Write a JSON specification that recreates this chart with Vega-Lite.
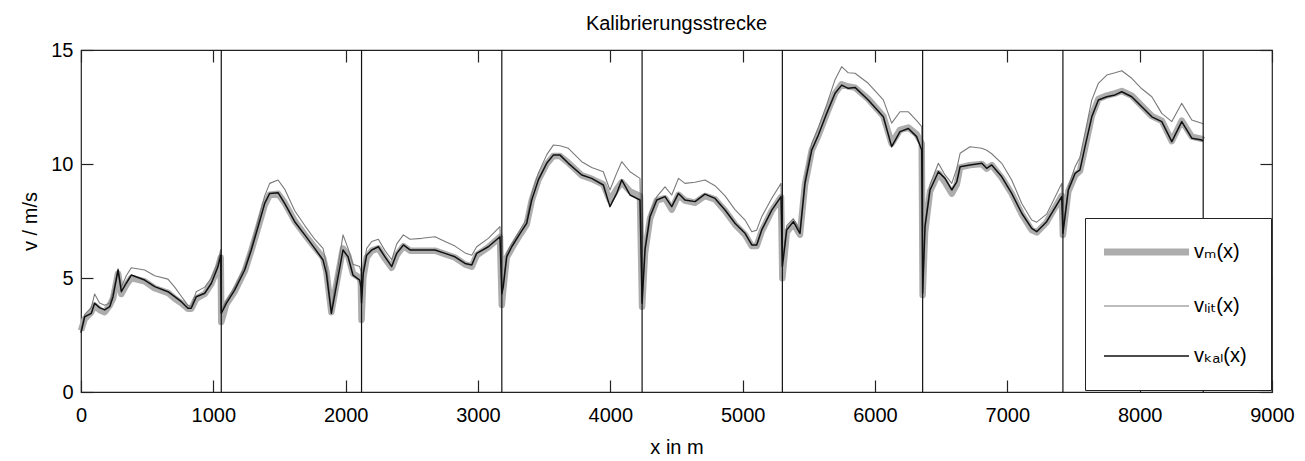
{
  "$schema": "https://vega.github.io/schema/vega-lite/v6.json",
  "width": 1191,
  "height": 342,
  "autosize": {"type": "none"},
  "padding": {"left": 81, "top": 50, "right": 33, "bottom": 69},
  "background": "white",
  "title": {
    "text": "Kalibrierungsstrecke",
    "font": "Liberation Sans",
    "fontSize": 20,
    "fontWeight": "normal",
    "color": "black",
    "baseline": "alphabetic",
    "offset": -10,
    "anchor": "middle"
  },
  "config": {
    "view": {"stroke": "#222", "strokeWidth": 1.2},
    "axis": {
      "grid": false,
      "domain": false,
      "tickSize": -12,
      "tickWidth": 1.2,
      "tickColor": "#222",
      "labelFont": "Liberation Sans",
      "labelFontSize": 20,
      "labelColor": "black",
      "titleFont": "Liberation Sans",
      "titleFontSize": 20,
      "titleFontWeight": "normal",
      "titleColor": "black",
      "labelFlush": false,
      "labelOverlap": false,
      "format": "d"
    },
    "legend": {
      "orient": "none",
      "legendX": 1004,
      "legendY": 168,
      "strokeColor": "#222",
      "fillColor": "white",
      "padding": 24,
      "symbolType": "M-1,0H4.667",
      "symbolSize": 900,
      "rowPadding": 30,
      "labelOffset": 65,
      "labelFont": "Liberation Sans, DejaVu Sans",
      "labelFontSize": 20,
      "labelColor": "black",
      "title": null
    }
  },
  "datasets": {
    "messung": [
      {"x": 0, "vkal": 2.6, "vlit": 2.7, "vm": 2.7},
      {"x": 28, "vkal": 3.3, "vlit": 3.4, "vm": 3.2},
      {"x": 78, "vkal": 3.45, "vlit": 3.7, "vm": 3.5},
      {"x": 103, "vkal": 3.89, "vlit": 4.3, "vm": 3.8},
      {"x": 140, "vkal": 3.7, "vlit": 3.9, "vm": 3.6},
      {"x": 179, "vkal": 3.6, "vlit": 3.8, "vm": 3.5},
      {"x": 217, "vkal": 3.74, "vlit": 3.9, "vm": 3.8},
      {"x": 242, "vkal": 4.18, "vlit": 4.4, "vm": 4.1},
      {"x": 280, "vkal": 5.35, "vlit": 5.4, "vm": 5.2},
      {"x": 305, "vkal": 4.4, "vlit": 4.6, "vm": 4.3},
      {"x": 342, "vkal": 4.77, "vlit": 5.1, "vm": 4.7},
      {"x": 380, "vkal": 5.13, "vlit": 5.45, "vm": 5.0},
      {"x": 481, "vkal": 4.91, "vlit": 5.35, "vm": 4.85},
      {"x": 557, "vkal": 4.62, "vlit": 5.1, "vm": 4.55},
      {"x": 657, "vkal": 4.4, "vlit": 4.95, "vm": 4.35},
      {"x": 708, "vkal": 4.18, "vlit": 4.6, "vm": 4.1},
      {"x": 758, "vkal": 3.96, "vlit": 4.2, "vm": 3.9},
      {"x": 808, "vkal": 3.67, "vlit": 3.8, "vm": 3.65},
      {"x": 833, "vkal": 3.67, "vlit": 3.75, "vm": 3.65},
      {"x": 871, "vkal": 4.18, "vlit": 4.4, "vm": 4.1},
      {"x": 935, "vkal": 4.33, "vlit": 4.6, "vm": 4.3},
      {"x": 985, "vkal": 4.77, "vlit": 5.0, "vm": 4.75},
      {"x": 1035, "vkal": 5.5, "vlit": 5.7, "vm": 5.45},
      {"x": 1056, "vkal": 6.0, "vlit": 6.25, "vm": 5.9},
      {"x": 1060, "vkal": 3.45, "vlit": 3.6, "vm": 3.07},
      {"x": 1098, "vkal": 3.89, "vlit": 4.0, "vm": 3.85},
      {"x": 1161, "vkal": 4.47, "vlit": 4.6, "vm": 4.4},
      {"x": 1237, "vkal": 5.35, "vlit": 5.5, "vm": 5.3},
      {"x": 1287, "vkal": 6.23, "vlit": 6.4, "vm": 6.2},
      {"x": 1338, "vkal": 7.25, "vlit": 7.5, "vm": 7.2},
      {"x": 1388, "vkal": 8.27, "vlit": 8.6, "vm": 8.2},
      {"x": 1426, "vkal": 8.71, "vlit": 9.15, "vm": 8.65},
      {"x": 1489, "vkal": 8.74, "vlit": 9.3, "vm": 8.7},
      {"x": 1539, "vkal": 8.27, "vlit": 8.9, "vm": 8.3},
      {"x": 1615, "vkal": 7.47, "vlit": 7.95, "vm": 7.5},
      {"x": 1691, "vkal": 6.89, "vlit": 7.3, "vm": 6.9},
      {"x": 1766, "vkal": 6.3, "vlit": 6.7, "vm": 6.35},
      {"x": 1829, "vkal": 5.79, "vlit": 6.3, "vm": 5.9},
      {"x": 1854, "vkal": 5.2, "vlit": 5.6, "vm": 5.3},
      {"x": 1892, "vkal": 3.45, "vlit": 3.6, "vm": 3.5},
      {"x": 1929, "vkal": 4.62, "vlit": 5.0, "vm": 4.7},
      {"x": 1980, "vkal": 6.23, "vlit": 6.89, "vm": 6.3},
      {"x": 2018, "vkal": 5.93, "vlit": 6.3, "vm": 6.0},
      {"x": 2055, "vkal": 5.13, "vlit": 5.6, "vm": 5.2},
      {"x": 2106, "vkal": 4.91, "vlit": 5.5, "vm": 5.0},
      {"x": 2115, "vkal": 4.6, "vlit": 5.3, "vm": 4.8},
      {"x": 2120, "vkal": 3.9, "vlit": 4.2, "vm": 3.16},
      {"x": 2133, "vkal": 5.2, "vlit": 5.4, "vm": 5.0},
      {"x": 2159, "vkal": 6.0, "vlit": 6.3, "vm": 5.9},
      {"x": 2197, "vkal": 6.23, "vlit": 6.6, "vm": 6.2},
      {"x": 2247, "vkal": 6.37, "vlit": 6.7, "vm": 6.3},
      {"x": 2297, "vkal": 5.93, "vlit": 6.2, "vm": 5.85},
      {"x": 2348, "vkal": 5.5, "vlit": 5.8, "vm": 5.45},
      {"x": 2386, "vkal": 6.08, "vlit": 6.5, "vm": 6.0},
      {"x": 2436, "vkal": 6.45, "vlit": 6.89, "vm": 6.4},
      {"x": 2486, "vkal": 6.23, "vlit": 6.7, "vm": 6.2},
      {"x": 2575, "vkal": 6.23, "vlit": 6.74, "vm": 6.2},
      {"x": 2675, "vkal": 6.23, "vlit": 6.81, "vm": 6.2},
      {"x": 2751, "vkal": 6.08, "vlit": 6.6, "vm": 6.05},
      {"x": 2826, "vkal": 5.93, "vlit": 6.4, "vm": 5.9},
      {"x": 2902, "vkal": 5.64, "vlit": 6.1, "vm": 5.6},
      {"x": 2953, "vkal": 5.57, "vlit": 6.0, "vm": 5.5},
      {"x": 2990, "vkal": 6.08, "vlit": 6.37, "vm": 6.0},
      {"x": 3078, "vkal": 6.37, "vlit": 6.74, "vm": 6.35},
      {"x": 3166, "vkal": 6.81, "vlit": 7.25, "vm": 6.8},
      {"x": 3180, "vkal": 4.3, "vlit": 4.5, "vm": 3.82},
      {"x": 3191, "vkal": 4.62, "vlit": 4.8, "vm": 4.5},
      {"x": 3217, "vkal": 5.93, "vlit": 6.1, "vm": 5.9},
      {"x": 3255, "vkal": 6.37, "vlit": 6.5, "vm": 6.3},
      {"x": 3318, "vkal": 6.96, "vlit": 7.1, "vm": 6.9},
      {"x": 3368, "vkal": 7.4, "vlit": 7.6, "vm": 7.35},
      {"x": 3406, "vkal": 8.42, "vlit": 8.7, "vm": 8.4},
      {"x": 3456, "vkal": 9.3, "vlit": 9.6, "vm": 9.3},
      {"x": 3519, "vkal": 10.03, "vlit": 10.4, "vm": 10.0},
      {"x": 3569, "vkal": 10.39, "vlit": 10.83, "vm": 10.35},
      {"x": 3620, "vkal": 10.39, "vlit": 10.8, "vm": 10.35},
      {"x": 3683, "vkal": 10.03, "vlit": 10.69, "vm": 10.05},
      {"x": 3784, "vkal": 9.52, "vlit": 10.1, "vm": 9.5},
      {"x": 3859, "vkal": 9.37, "vlit": 9.85, "vm": 9.35},
      {"x": 3947, "vkal": 9.08, "vlit": 9.66, "vm": 9.1},
      {"x": 3997, "vkal": 8.13, "vlit": 8.86, "vm": 8.4},
      {"x": 4048, "vkal": 8.71, "vlit": 9.6, "vm": 8.9},
      {"x": 4086, "vkal": 9.3, "vlit": 10.1, "vm": 9.2},
      {"x": 4149, "vkal": 8.64, "vlit": 9.66, "vm": 8.8},
      {"x": 4224, "vkal": 8.42, "vlit": 9.37, "vm": 8.6},
      {"x": 4240, "vkal": 3.89, "vlit": 4.0, "vm": 3.74},
      {"x": 4262, "vkal": 6.23, "vlit": 6.4, "vm": 6.1},
      {"x": 4300, "vkal": 7.69, "vlit": 7.9, "vm": 7.6},
      {"x": 4351, "vkal": 8.42, "vlit": 8.57, "vm": 8.4},
      {"x": 4413, "vkal": 8.57, "vlit": 9.0, "vm": 8.5},
      {"x": 4464, "vkal": 8.13, "vlit": 8.64, "vm": 8.0},
      {"x": 4515, "vkal": 8.71, "vlit": 9.37, "vm": 8.65},
      {"x": 4564, "vkal": 8.42, "vlit": 9.15, "vm": 8.4},
      {"x": 4640, "vkal": 8.35, "vlit": 9.2, "vm": 8.3},
      {"x": 4715, "vkal": 8.68, "vlit": 9.3, "vm": 8.6},
      {"x": 4791, "vkal": 8.49, "vlit": 9.05, "vm": 8.45},
      {"x": 4867, "vkal": 7.98, "vlit": 8.6, "vm": 7.95},
      {"x": 4942, "vkal": 7.4, "vlit": 8.0, "vm": 7.35},
      {"x": 5018, "vkal": 6.96, "vlit": 7.54, "vm": 6.9},
      {"x": 5069, "vkal": 6.45, "vlit": 7.03, "vm": 6.4},
      {"x": 5106, "vkal": 6.45, "vlit": 7.1, "vm": 6.4},
      {"x": 5144, "vkal": 7.11, "vlit": 7.69, "vm": 7.05},
      {"x": 5220, "vkal": 7.98, "vlit": 8.5, "vm": 7.95},
      {"x": 5290, "vkal": 8.57, "vlit": 9.15, "vm": 8.55},
      {"x": 5300, "vkal": 5.5, "vlit": 5.7, "vm": 4.99},
      {"x": 5333, "vkal": 7.11, "vlit": 7.3, "vm": 7.0},
      {"x": 5383, "vkal": 7.47, "vlit": 7.6, "vm": 7.4},
      {"x": 5433, "vkal": 6.96, "vlit": 7.1, "vm": 6.9},
      {"x": 5471, "vkal": 9.15, "vlit": 9.4, "vm": 9.1},
      {"x": 5522, "vkal": 10.61, "vlit": 10.9, "vm": 10.6},
      {"x": 5572, "vkal": 11.27, "vlit": 11.6, "vm": 11.25},
      {"x": 5635, "vkal": 12.22, "vlit": 12.6, "vm": 12.2},
      {"x": 5698, "vkal": 13.1, "vlit": 13.7, "vm": 13.1},
      {"x": 5748, "vkal": 13.46, "vlit": 14.27, "vm": 13.5},
      {"x": 5798, "vkal": 13.32, "vlit": 14.0, "vm": 13.4},
      {"x": 5849, "vkal": 13.36, "vlit": 13.98, "vm": 13.35},
      {"x": 5949, "vkal": 12.81, "vlit": 13.54, "vm": 12.85},
      {"x": 6063, "vkal": 12.07, "vlit": 12.81, "vm": 12.1},
      {"x": 6126, "vkal": 10.76, "vlit": 11.79, "vm": 10.9},
      {"x": 6189, "vkal": 11.42, "vlit": 12.29, "vm": 11.5},
      {"x": 6252, "vkal": 11.56, "vlit": 12.29, "vm": 11.6},
      {"x": 6315, "vkal": 11.2, "vlit": 11.9, "vm": 11.3},
      {"x": 6353, "vkal": 10.61, "vlit": 11.64, "vm": 10.9},
      {"x": 6360, "vkal": 4.33, "vlit": 4.5, "vm": 4.25},
      {"x": 6378, "vkal": 7.25, "vlit": 7.4, "vm": 7.0},
      {"x": 6416, "vkal": 8.86, "vlit": 9.1, "vm": 8.8},
      {"x": 6479, "vkal": 9.66, "vlit": 10.03, "vm": 9.6},
      {"x": 6529, "vkal": 9.37, "vlit": 9.52, "vm": 9.2},
      {"x": 6580, "vkal": 8.86, "vlit": 9.15, "vm": 8.7},
      {"x": 6618, "vkal": 9.22, "vlit": 9.8, "vm": 9.1},
      {"x": 6643, "vkal": 9.88, "vlit": 10.47, "vm": 9.85},
      {"x": 6718, "vkal": 9.96, "vlit": 10.76, "vm": 9.95},
      {"x": 6807, "vkal": 10.03, "vlit": 10.69, "vm": 10.0},
      {"x": 6844, "vkal": 9.81, "vlit": 10.6, "vm": 9.8},
      {"x": 6882, "vkal": 9.96, "vlit": 10.45, "vm": 9.95},
      {"x": 6958, "vkal": 9.44, "vlit": 10.03, "vm": 9.4},
      {"x": 7033, "vkal": 8.71, "vlit": 9.3, "vm": 8.7},
      {"x": 7109, "vkal": 7.84, "vlit": 8.27, "vm": 7.8},
      {"x": 7184, "vkal": 7.18, "vlit": 7.54, "vm": 7.1},
      {"x": 7222, "vkal": 7.03, "vlit": 7.45, "vm": 7.0},
      {"x": 7297, "vkal": 7.47, "vlit": 7.8, "vm": 7.45},
      {"x": 7411, "vkal": 8.57, "vlit": 9.15, "vm": 8.6},
      {"x": 7420, "vkal": 6.96, "vlit": 7.1, "vm": 6.89},
      {"x": 7461, "vkal": 8.86, "vlit": 9.0, "vm": 8.8},
      {"x": 7512, "vkal": 9.59, "vlit": 9.88, "vm": 9.5},
      {"x": 7549, "vkal": 9.74, "vlit": 10.3, "vm": 9.7},
      {"x": 7587, "vkal": 10.76, "vlit": 11.35, "vm": 10.7},
      {"x": 7638, "vkal": 12.07, "vlit": 12.8, "vm": 12.1},
      {"x": 7688, "vkal": 12.81, "vlit": 13.54, "vm": 12.85},
      {"x": 7751, "vkal": 12.95, "vlit": 13.9, "vm": 13.0},
      {"x": 7814, "vkal": 13.03, "vlit": 14.0, "vm": 13.1},
      {"x": 7865, "vkal": 13.17, "vlit": 14.09, "vm": 13.2},
      {"x": 7940, "vkal": 12.95, "vlit": 13.76, "vm": 13.0},
      {"x": 8016, "vkal": 12.51, "vlit": 13.3, "vm": 12.55},
      {"x": 8092, "vkal": 12.07, "vlit": 12.95, "vm": 12.1},
      {"x": 8167, "vkal": 11.86, "vlit": 12.22, "vm": 11.9},
      {"x": 8243, "vkal": 10.98, "vlit": 11.86, "vm": 11.0},
      {"x": 8318, "vkal": 11.86, "vlit": 12.66, "vm": 11.9},
      {"x": 8394, "vkal": 11.13, "vlit": 11.93, "vm": 11.2},
      {"x": 8469, "vkal": 11.05, "vlit": 11.79, "vm": 11.1},
      {"x": 8480, "vkal": 11.0, "vlit": 11.75, "vm": 11.05}
    ],
    "grenzen": [
      {"x": 1060}, {"x": 2120}, {"x": 3180}, {"x": 4240},
      {"x": 5300}, {"x": 6360}, {"x": 7420}, {"x": 8480}
    ]
  },
  "layer": [
    {
      "data": {"name": "messung"},
      "mark": {"type": "line", "strokeJoin": "round", "strokeWidth": 6.5},
      "encoding": {
        "x": {
          "field": "x", "type": "quantitative",
          "scale": {"domain": [0, 9000], "nice": false},
          "axis": {
            "orient": "bottom",
            "values": [0, 1000, 2000, 3000, 4000, 5000, 6000, 7000, 8000, 9000],
            "labelPadding": 25,
            "title": "x in m",
            "titlePadding": 12
          }
        },
        "y": {
          "field": "vm", "type": "quantitative",
          "scale": {"domain": [0, 15], "nice": false},
          "axis": {
            "orient": "left",
            "values": [0, 5, 10, 15],
            "labelPadding": 20,
            "title": "v / m/s",
            "titlePadding": 10
          }
        },
        "color": {
          "datum": "vm", "type": "nominal",
          "scale": {"domain": ["vm", "vlit", "vkal"], "range": ["#adadad", "#7a7a7a", "#111111"]},
          "legend": {
            "labelExpr": "datum.label == 'vm' ? 'vₘ(x)' : datum.label == 'vlit' ? 'vₗᵢₜ(x)' : 'vₖₐₗ(x)'",
            "symbolStrokeWidth": 1.3,
            "encode": {
              "symbols": {
                "update": {
                  "strokeWidth": {"signal": "datum.value == 'vm' ? 7 : datum.value == 'vlit' ? 1 : 1.4"}
                }
              }
            }
          }
        }
      }
    },
    {
      "data": {"name": "messung"},
      "mark": {"type": "line", "strokeJoin": "round", "strokeWidth": 1.1},
      "encoding": {
        "x": {
          "field": "x", "type": "quantitative",
          "axis": {
            "orient": "top",
            "values": [0, 1000, 2000, 3000, 4000, 5000, 6000, 7000, 8000, 9000],
            "labels": false,
            "title": null
          }
        },
        "y": {
          "field": "vlit", "type": "quantitative",
          "axis": {
            "orient": "right",
            "values": [0, 5, 10, 15],
            "labels": false,
            "title": null
          }
        },
        "color": {"datum": "vlit", "type": "nominal"}
      }
    },
    {
      "data": {"name": "messung"},
      "mark": {"type": "line", "strokeJoin": "round", "strokeWidth": 1.5},
      "encoding": {
        "x": {"field": "x", "type": "quantitative", "axis": null},
        "y": {"field": "vkal", "type": "quantitative", "axis": null},
        "color": {"datum": "vkal", "type": "nominal"}
      }
    },
    {
      "data": {"name": "grenzen"},
      "mark": {"type": "rule", "color": "#111111", "strokeWidth": 1.2},
      "encoding": {
        "x": {"field": "x", "type": "quantitative", "axis": null}
      }
    }
  ],
  "resolve": {"axis": {"x": "independent", "y": "independent"}}
}
